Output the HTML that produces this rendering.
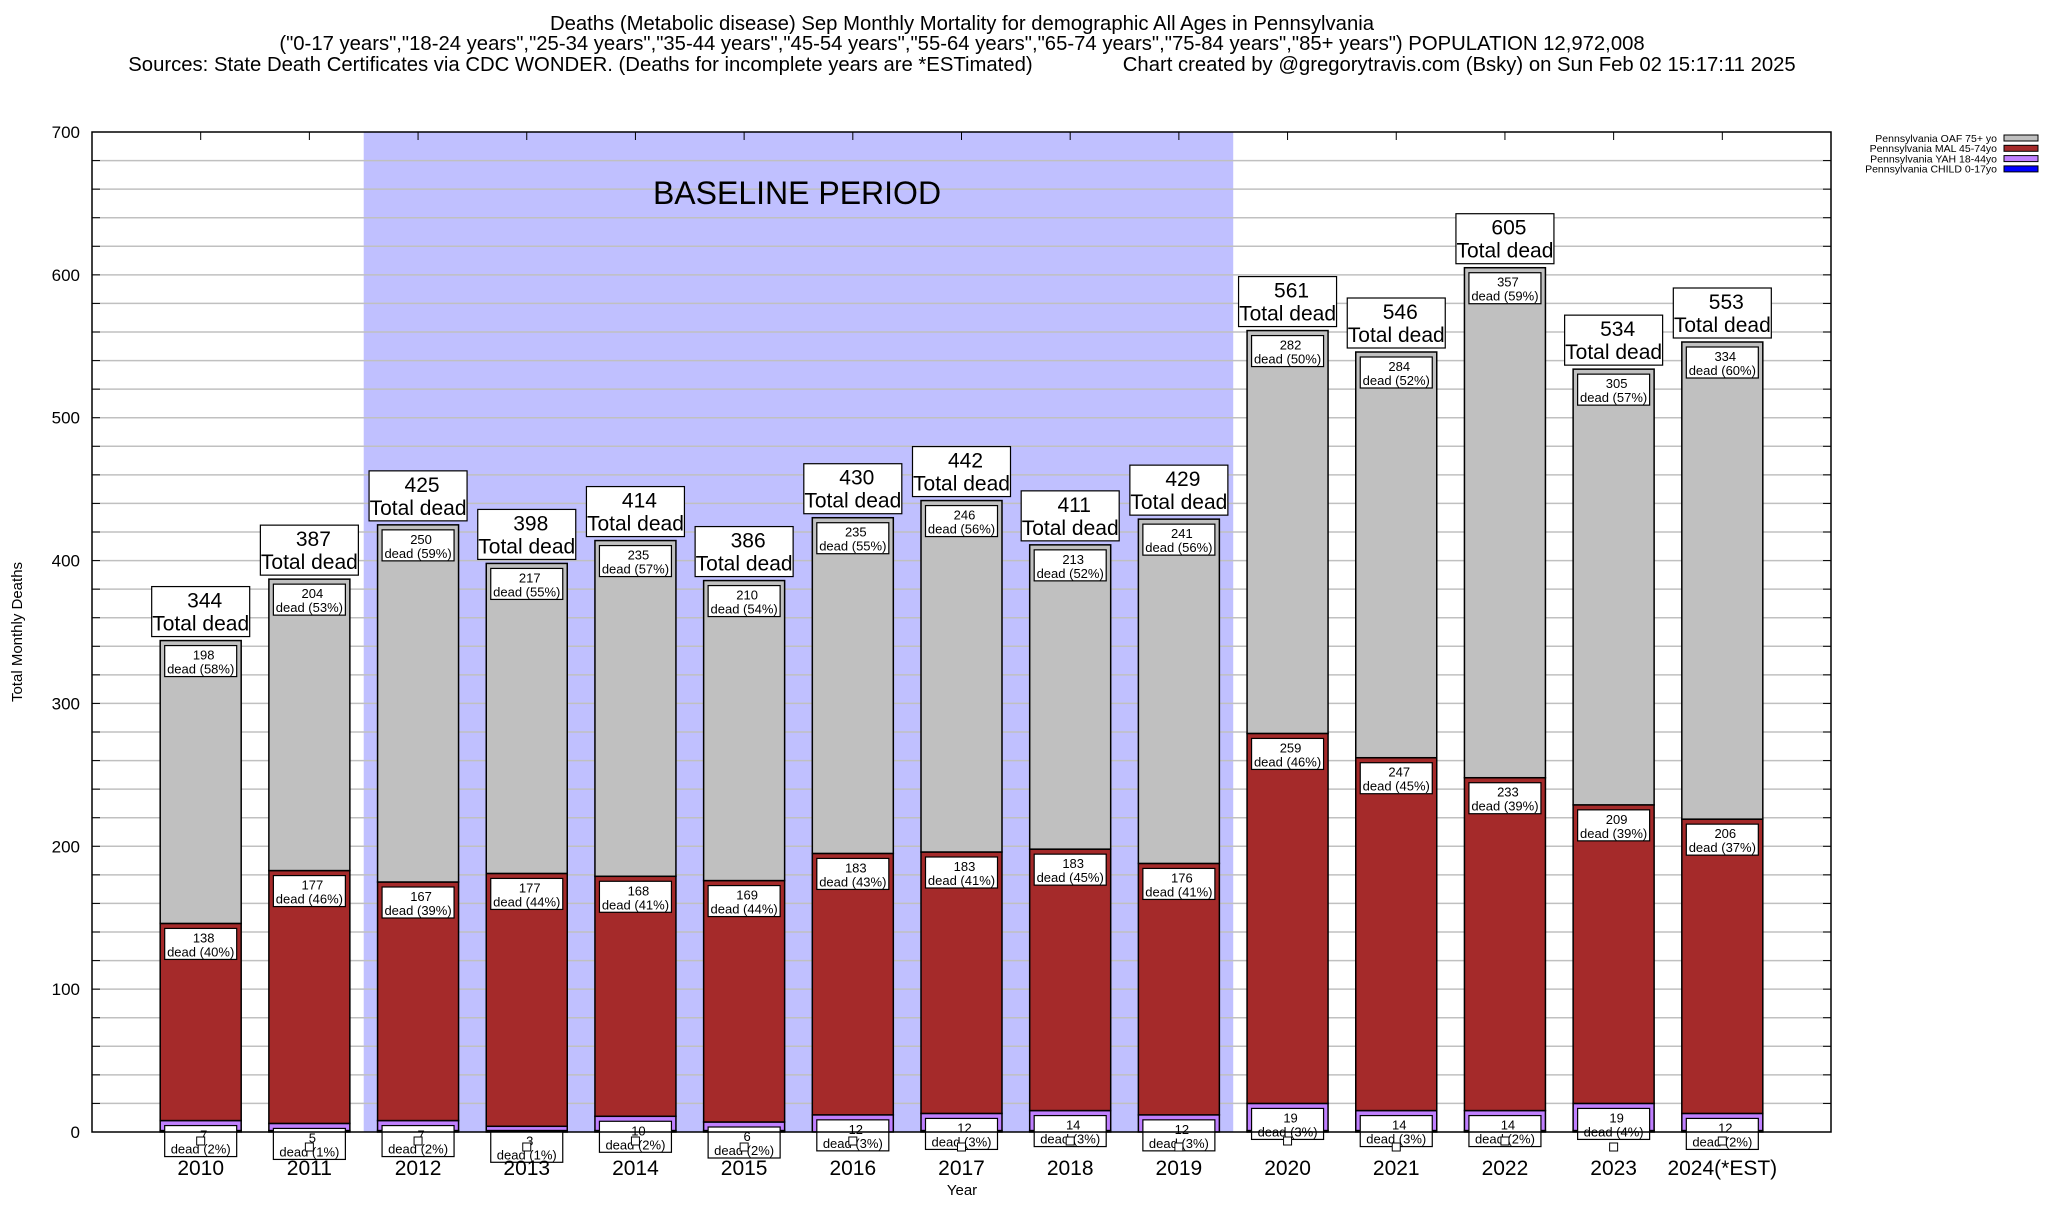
<!DOCTYPE html>
<html><head><meta charset="utf-8"><style>
body{margin:0;background:#fff;}
svg text{font-family:"Liberation Sans",sans-serif;}
</style></head><body>
<svg id="chart" width="2048" height="1200" xmlns="http://www.w3.org/2000/svg">
<g id="titles" font-size="20.3" text-anchor="middle">
<text x="962" y="30">Deaths (Metabolic disease) Sep Monthly Mortality for demographic All Ages in Pennsylvania</text>
<text x="962" y="50">("0-17 years","18-24 years","25-34 years","35-44 years","45-54 years","55-64 years","65-74 years","75-84 years","85+ years") POPULATION 12,972,008</text>
<text x="962" y="71" xml:space="preserve">Sources: State Death Certificates via CDC WONDER. (Deaths for incomplete years are *ESTimated)                Chart created by @gregorytravis.com (Bsky) on Sun Feb 02 15:17:11 2025</text>
</g>
<g id="plot"></g>
<g id="legend" font-size="10.5" text-anchor="end"></g>
</svg>
<script>
const years=["2010","2011","2012","2013","2014","2015","2016","2017","2018","2019","2020","2021","2022","2023","2024(*EST)"];
const child=[1,1,1,1,1,1,0,1,1,0,1,1,1,1,1];
const yah=[7,5,7,3,10,6,12,12,14,12,19,14,14,19,12];
const mal=[138,177,167,177,168,169,183,183,183,176,259,247,233,209,206];
const oaf=[198,204,250,217,235,210,235,246,213,241,282,284,357,305,334];
const totals=[344,387,425,398,414,386,430,442,411,429,561,546,605,534,553];
const yTicks=[0,100,200,300,400,500,600,700];
const baseline=["2012","2019"];

const NS="http://www.w3.org/2000/svg";
const L=92,R=1831,T=132,B=1132;
const X=i=>L+(i+1)*(R-L)/16;
const Y=v=>B-(v/700)*(B-T);
const plot=document.getElementById('plot');
function mk(tag,attrs,parent,text){const e=document.createElementNS(NS,tag);for(const k in attrs)e.setAttribute(k,attrs[k]);if(text!==undefined)e.textContent=text;(parent||plot).appendChild(e);return e;}

const b0=years.indexOf(baseline[0]),b1=years.indexOf(baseline[1]);
const band=mk('rect',{x:(X(b0)+X(b0-1))/2,y:T,width:(X(b1)+X(b1+1))/2-(X(b0)+X(b0-1))/2,height:B-T,fill:'#c0c0ff'});



for(let v=20;v<700;v+=20){
 const g=mk('line',{x1:L,x2:R,y1:Y(v),y2:Y(v),stroke:'#c0c0c0','stroke-width':1.5});
 
 
 mk('line',{x1:L,x2:L+8,y1:Y(v),y2:Y(v),stroke:'#000','stroke-width':1});
 mk('line',{x1:R-8,x2:R,y1:Y(v),y2:Y(v),stroke:'#000','stroke-width':1});
}
const bt=mk('text',{x:797,y:204,'font-size':32,'text-anchor':'middle'},plot,'BASELINE PERIOD');


yTicks.forEach(v=>{
 const t=mk('text',{x:L-12,y:Y(v)+6,'font-size':17,'text-anchor':'end'},plot,String(v));
 
 
});
const yt=mk('text',{x:22,y:(T+B)/2,'font-size':15,'text-anchor':'middle',transform:`rotate(-90 22 ${(T+B)/2})`},plot,'Total Monthly Deaths');


const xt=mk('text',{x:962,y:1195,'font-size':15,'text-anchor':'middle'},plot,'Year');



const BW=81;
function segLabel(cx,top,val,pct,name){
 const g=mk('g',{});
 
 
 mk('rect',{x:cx-36,y:top+5,width:72,height:31,fill:'#fff',stroke:'#000','stroke-width':1.2},g);
 mk('text',{x:cx+3,y:top+19,'font-size':13,'text-anchor':'middle'},g,String(val));
 mk('text',{x:cx,y:top+33,'font-size':13,'text-anchor':'middle'},g,'dead ('+pct+'%)');
}
years.forEach((yr,i)=>{
 const cx=X(i),x0=cx-BW/2;
 const segs=[[child[i],'#0000ff','child'],[yah[i],'#c080ff','yah'],[mal[i],'#a52a2a','mal'],[oaf[i],'#c0c0c0','oaf']];
 let acc=0;
 segs.forEach(([v,c,n])=>{
  const r=mk('rect',{x:x0,y:Y(acc+v),width:BW,height:Y(acc)-Y(acc+v),fill:c,stroke:'#000','stroke-width':1.5});
  
  
  acc+=v;
 });
 const tot=totals[i];
 const pct=v=>Math.round(v/tot*100);
 segLabel(cx,Y(child[i]+yah[i]+mal[i]+oaf[i]),oaf[i],pct(oaf[i]),'label-oaf-'+yr);
 segLabel(cx,Y(child[i]+yah[i]+mal[i]),mal[i],pct(mal[i]),'label-mal-'+yr);
 segLabel(cx,Y(child[i]+yah[i]),yah[i],pct(yah[i]),'label-yah-'+yr);
 const sq=mk('rect',{x:cx-4,y:Y(0)+5+(i%2?6:0),width:8,height:8,fill:'#fff',stroke:'#000','stroke-width':1});
 
 
 const top=Y(acc);
 const g=mk('g',{});
 
 
 mk('rect',{x:cx-49,y:top-54,width:98,height:50,fill:'#fff',stroke:'#000','stroke-width':1.2},g);
 mk('text',{x:cx+4,y:top-33,'font-size':21,'text-anchor':'middle'},g,String(tot));
 mk('text',{x:cx,y:top-10,'font-size':21,'text-anchor':'middle'},g,'Total dead');
 mk('line',{x1:cx,x2:cx,y1:T,y2:T+8,stroke:'#000','stroke-width':1});
 const xl=mk('text',{x:cx,y:1175,'font-size':21,'text-anchor':'middle'},plot,yr);
 
 
});
const frame=mk('rect',{x:L,y:T,width:R-L,height:B-T,fill:'none',stroke:'#000','stroke-width':1.5});



const leg=document.getElementById('legend');
const legNames=['Pennsylvania OAF 75+ yo','Pennsylvania MAL 45-74yo','Pennsylvania YAH 18-44yo','Pennsylvania CHILD 0-17yo'];
const legCols=['#c0c0c0','#a52a2a','#c080ff','#0000ff'];
legNames.forEach((n,i)=>{
 const y=138+i*10.3;
 const g=mk('g',{},leg);
 
 
 mk('text',{x:1997,y:y+3.8},g,n);
 mk('rect',{x:2004,y:y-3,width:34,height:6,fill:legCols[i],stroke:'#000','stroke-width':1},g);
});
</script>
</body></html>
